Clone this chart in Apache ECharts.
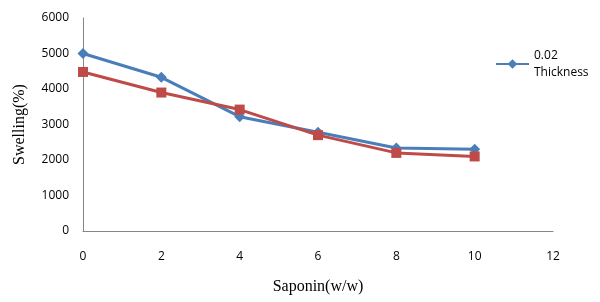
<!DOCTYPE html>
<html>
<head>
<meta charset="utf-8">
<script src="https://cdn.jsdelivr.net/npm/echarts@6/dist/echarts.min.js"></script>
<style>
  html, body { margin: 0; padding: 0; background: #fff; }
  #chart { width: 600px; height: 302px; }
</style>
</head>
<body>
<div id="chart"></div>
<script>
// Données
const saponin = [0, 2, 4, 6, 8, 10];
const thickness002 = [5000, 4330, 3220, 2780, 2340, 2300];
const thicknessOther = [4480, 3900, 3420, 2700, 2200, 2100];

const chart = echarts.init(document.getElementById("chart"));

const tickFont = { fontFamily: "Open Sans", fontSize: 12, color: "#000" };
const axisColor = "#868686";

const options = {
  animation: false,
  grid: { left: 83, right: 47, top: 18, bottom: 71 },
  legend: {
    data: ["0.02 Thickness"],
    left: 490,
    top: 42,
    orient: "vertical",
    itemWidth: 33,
    itemHeight: 12,
    itemGap: 4,
    formatter: () => "0.02\nThickness",
    textStyle: { fontFamily: "Open Sans", fontSize: 12, color: "#000", lineHeight: 17 },
  },
  xAxis: {
    type: "value",
    min: 0,
    max: 12,
    interval: 2,
    name: "Saponin(w/w)",
    nameLocation: "middle",
    nameGap: 48,
    nameTextStyle: { fontFamily: "Liberation Serif", fontSize: 16, color: "#000" },
    axisLine: { lineStyle: { color: axisColor, width: 1 } },
    axisTick: { show: false },
    splitLine: { show: false },
    axisLabel: { ...tickFont, margin: 20 },
  },
  yAxis: {
    type: "value",
    min: 0,
    max: 6000,
    interval: 1000,
    name: "Swelling(%)",
    nameLocation: "middle",
    nameGap: 55,
    nameTextStyle: { fontFamily: "Liberation Serif", fontSize: 16, color: "#000" },
    axisLine: { show: true, lineStyle: { color: axisColor, width: 1 } },
    axisTick: { show: false },
    splitLine: { show: false },
    axisLabel: { ...tickFont, margin: 14, formatter: (v) => String(v) },
  },
  series: [
    {
      name: "0.02 Thickness",
      type: "line",
      data: saponin.map((x, i) => [x, thickness002[i]]),
      symbol: "diamond",
      symbolSize: 11,
      lineStyle: { color: "#4A7EBB", width: 3 },
      itemStyle: { color: "#4A7EBB" },
      z: 3,
    },
    {
      name: "autre",
      type: "line",
      data: saponin.map((x, i) => [x, thicknessOther[i]]),
      symbol: "rect",
      symbolSize: 10,
      lineStyle: { color: "#BE4B48", width: 3 },
      itemStyle: { color: "#BE4B48" },
      z: 4,
    },
  ],
};

chart.setOption(options);
</script>
</body>
</html>
